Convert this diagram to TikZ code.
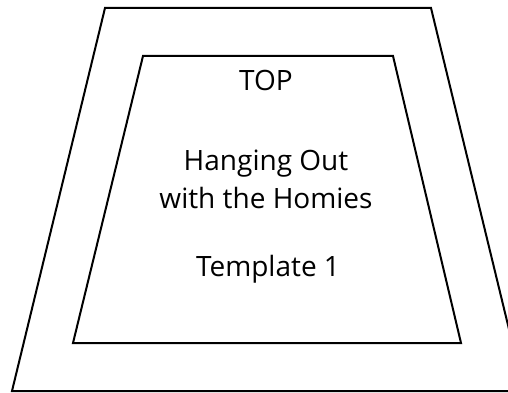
\documentclass[tikz,border=0pt]{standalone}
\usepackage{fontspec}
\setmainfont{Open Sans}
\usepackage{tikz}

\begin{document}
\begin{tikzpicture}[x=1pt,y=-1pt]
\tikzset{label text/.style={font=\fontsize{28}{38}\selectfont, align=center, anchor=base, inner sep=0pt}}
\useasboundingbox (0,0) rectangle (508,393);
\clip (0,0) rectangle (508,393);
\draw[line width=2pt, line join=miter] (105,8) -- (431,8) -- (524,391) -- (12,391) -- cycle;
\draw[line width=2pt, line join=miter] (143,56) -- (393,56) -- (461,343) -- (73,343) -- cycle;
\node[label text] (top) at (266,91) {TOP};
\node[label text] (title) at (266,208) {Hanging Out\\with the Homies};
\node[label text] (tmpl) at (268,276) {Template 1};
\end{tikzpicture}
\end{document}
